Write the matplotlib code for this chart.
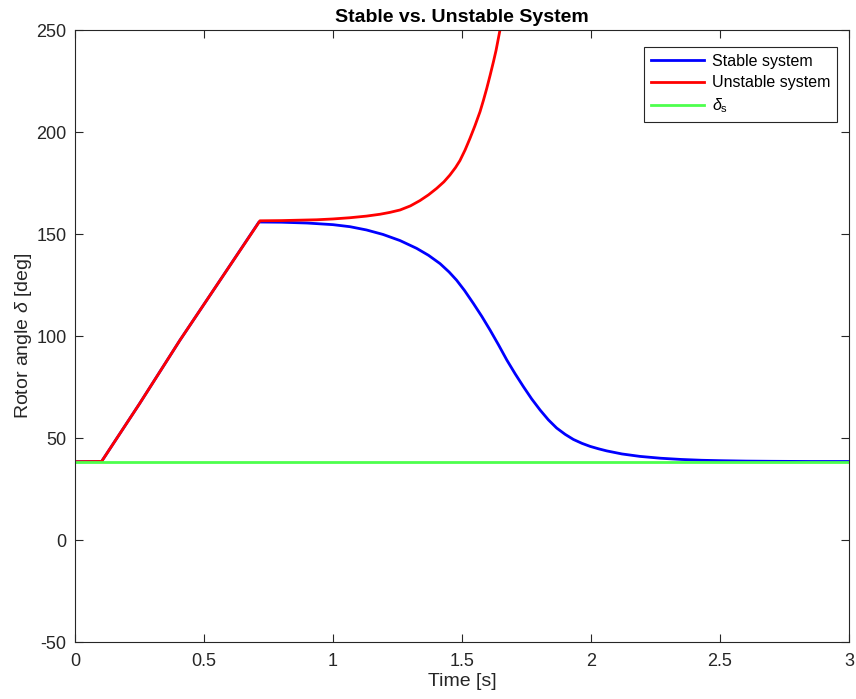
import numpy as np
import matplotlib
matplotlib.use("Agg")
import matplotlib.pyplot as plt

plt.rcParams.update(
    {
        "font.family": ["Liberation Sans", "DejaVu Sans"],
        "mathtext.fontset": "custom",
        "mathtext.rm": "Liberation Sans",
        "mathtext.it": "Liberation Sans:italic",
        "axes.unicode_minus": False,
    }
)

# ==================================================
# data
# ==================================================
delta_s = 38.4

t_stable = [0.0, 0.103, 0.25, 0.407, 0.55, 0.713, 0.80, 0.90, 1.0, 1.066,
            1.13, 1.194, 1.26, 1.324, 1.37, 1.415, 1.45, 1.479, 1.51, 1.544,
            1.577, 1.609, 1.642, 1.674, 1.706, 1.738, 1.77, 1.803, 1.835,
            1.867, 1.90, 1.932, 1.965, 1.997, 2.03, 2.061, 2.12, 2.19, 2.27,
            2.35, 2.43, 2.5, 2.6, 2.7, 2.85, 3.0]
d_stable = [38.4, 38.5, 66.8, 98.0, 125.0, 155.9, 155.8, 155.4, 154.6, 153.6,
            152.0, 149.8, 146.8, 143.0, 139.6, 135.5, 131.4, 127.4, 122.3, 116.0,
            109.6, 102.9, 95.6, 88.2, 81.5, 75.2, 69.2, 63.7, 58.9,
            54.9, 51.8, 49.3, 47.4, 45.9, 44.7, 43.7, 42.2, 41.0, 40.1,
            39.5, 39.1, 38.9, 38.7, 38.6, 38.5, 38.5]

t_unstable = [0.0, 0.103, 0.25, 0.407, 0.55, 0.717, 0.80, 0.937, 1.0, 1.066,
              1.13, 1.182, 1.22, 1.26, 1.30, 1.337, 1.37, 1.402, 1.43, 1.453,
              1.475, 1.492, 1.512, 1.531, 1.55, 1.57, 1.583, 1.596, 1.609,
              1.622, 1.632, 1.641, 1.65, 1.68]
d_unstable = [38.4, 38.5, 66.8, 98.0, 125.0, 156.5, 156.6, 157.0, 157.4, 158.0,
              158.8, 159.7, 160.6, 161.8, 163.8, 166.4, 169.2, 172.4, 175.6, 178.9,
              182.6, 186.0, 191.2, 196.9, 203.0, 210.0, 215.5, 221.4, 227.8,
              234.5, 240.0, 245.9, 251.8, 272.0]

t_range = [0.0, 3.0]

x_ticks = [0, 0.5, 1, 1.5, 2, 2.5, 3]
y_ticks = [-50, 0, 50, 100, 150, 200, 250]

AX_COLOR = (0.15, 0.15, 0.15)

# ==================================================
# figure
# ==================================================
fig = plt.figure(figsize=(8.56, 6.99), dpi=100)
ax = fig.add_axes([0.0876, 0.0815, 0.9042, 0.8755])

ax.plot(t_stable, d_stable, color="blue", lw=2, label="Stable system")
ax.plot(t_unstable, d_unstable, color="red", lw=2, label="Unstable system")
ax.plot(t_range, [delta_s, delta_s], color=(0.3, 1.0, 0.3), lw=2,
        label=r"$\delta_{\rm s}$")

ax.set_xlim(0, 3)
ax.set_ylim(-50, 250)
ax.set_xticks(x_ticks)
ax.set_xticklabels(["0", "0.5", "1", "1.5", "2", "2.5", "3"])
ax.set_yticks(y_ticks)

ax.tick_params(direction="in", top=True, right=True, length=6,
               color=AX_COLOR, labelcolor=AX_COLOR, labelsize=13, width=0.8)
ax.tick_params(axis="x", pad=8)
ax.tick_params(axis="y", pad=6)
for sp in ax.spines.values():
    sp.set_color(AX_COLOR)
    sp.set_linewidth(0.8)

ax.set_xlabel("Time [s]", fontsize=14, color=AX_COLOR, labelpad=2)
ax.set_ylabel(r"Rotor angle $\delta$ [deg]", fontsize=14, color=AX_COLOR,
              labelpad=2)
ax.set_title("Stable vs. Unstable System", fontsize=14, fontweight="bold",
             pad=6)

leg = ax.legend(loc="upper right", bbox_to_anchor=(0.985, 0.973),
                borderaxespad=0, fontsize=11.5, handlelength=3.3,
                fancybox=False, framealpha=1, edgecolor=AX_COLOR,
                labelspacing=0.4, handletextpad=0.5, borderpad=0.45)
leg.get_frame().set_linewidth(0.8)

fig.savefig("out.png", dpi=100)
